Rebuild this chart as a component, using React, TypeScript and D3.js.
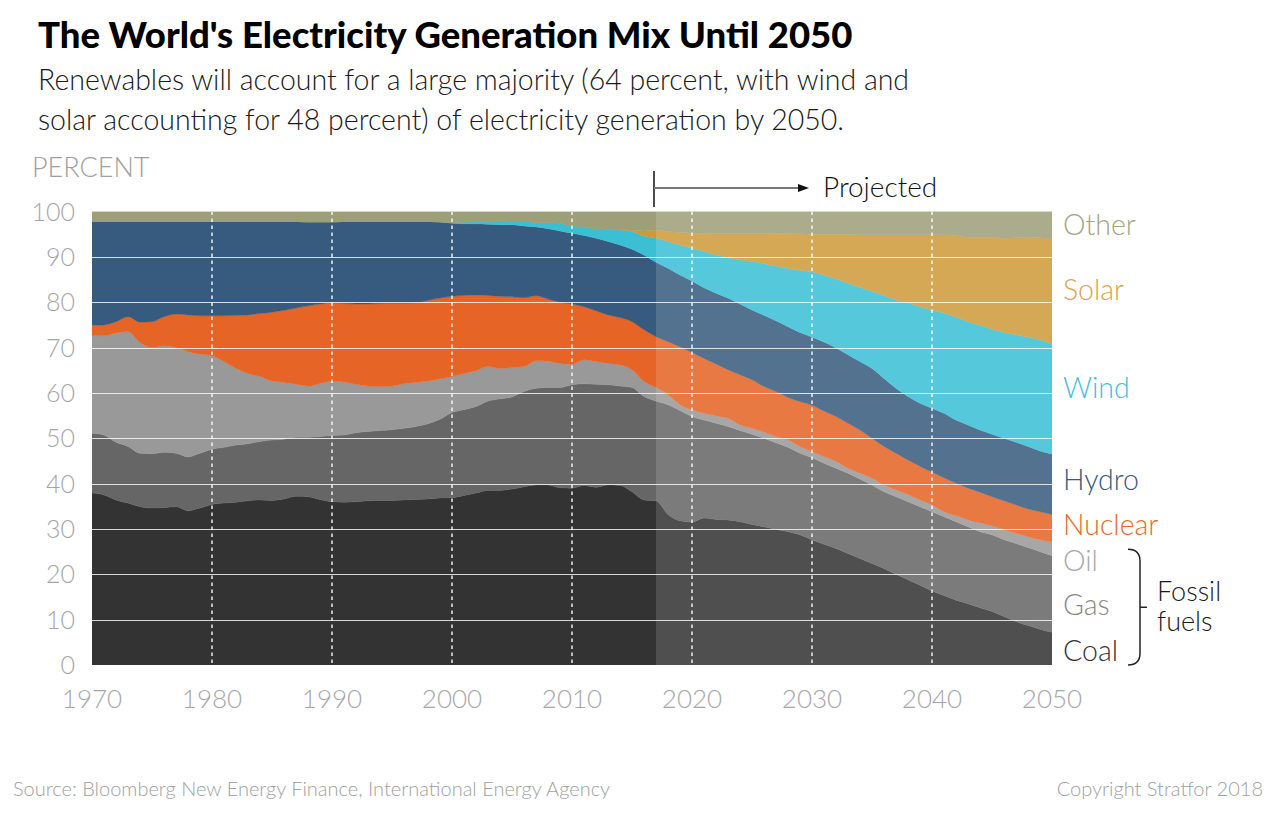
import * as d3 from "d3"
import { useEffect, useRef } from "react"

const YEARS = d3.range(1970, 2051)
const PROJECTION_START = 2017

// shares of world generation, percent, 1970..2050
const COAL = [
  37.9, 37.5, 36.4, 35.7, 34.9, 34.6, 34.7, 34.9, 34.0, 34.6,
  35.4, 35.7, 35.9, 36.2, 36.4, 36.3, 36.6, 37.2, 37.1, 36.5,
  36.0, 35.9, 36.0, 36.2, 36.3, 36.3, 36.4, 36.5, 36.6, 36.8,
  36.9, 37.4, 37.9, 38.5, 38.5, 38.8, 39.3, 39.7, 39.7, 39.1,
  39.0, 39.6, 39.2, 39.7, 39.6, 38.2, 36.4, 36.2, 33.2, 31.8,
  31.5, 32.4, 32.1, 32.0, 31.6, 31.0, 30.5, 29.9, 29.4, 28.7,
  27.6, 26.6, 25.7, 24.6, 23.5, 22.4, 21.3, 20.0, 18.8, 17.6,
  16.3, 15.3, 14.3, 13.5, 12.6, 11.8, 10.7, 9.6, 8.7, 7.9,
  7.2,
]
const GAS = [
  13.2, 13.2, 12.7, 12.5, 11.8, 12.0, 12.2, 11.8, 11.9, 12.1,
  12.2, 12.3, 12.6, 12.6, 12.9, 13.3, 13.2, 13.0, 13.1, 13.9,
  14.6, 14.8, 15.2, 15.3, 15.4, 15.6, 15.8, 16.1, 16.6, 17.4,
  18.8, 18.9, 19.1, 19.7, 20.2, 20.3, 21.0, 21.3, 21.5, 22.1,
  22.8, 22.4, 22.7, 22.1, 21.9, 23.0, 22.8, 22.0, 24.2, 24.3,
  23.3, 21.6, 21.2, 20.6, 20.1, 19.9, 19.5, 19.1, 18.6, 18.0,
  18.1, 17.9, 17.7, 17.7, 17.5, 17.3, 16.9, 17.1, 17.2, 17.3,
  17.5, 17.4, 17.3, 17.0, 16.8, 16.9, 16.9, 17.2, 17.2, 17.1,
  16.9,
]
const OIL = [
  21.5, 21.9, 24.1, 25.3, 24.4, 23.4, 23.5, 23.3, 23.2, 21.8,
  20.6, 18.9, 16.9, 15.5, 14.3, 13.0, 12.5, 11.7, 11.3, 11.7,
  11.9, 11.7, 10.7, 10.0, 9.7, 9.6, 9.8, 9.7, 9.4, 8.9,
  7.9, 8.0, 7.9, 7.6, 6.7, 6.5, 5.5, 6.1, 5.8, 5.3,
  4.5, 5.3, 5.0, 4.7, 4.7, 3.9, 3.3, 3.0, 2.2, 1.3,
  1.5, 1.5, 1.6, 1.8, 1.2, 1.3, 1.3, 1.4, 1.6, 1.5,
  1.3, 1.5, 1.5, 1.1, 1.3, 1.5, 1.5, 1.5, 1.6, 1.5,
  1.5, 1.1, 1.3, 1.5, 1.9, 2.0, 2.2, 2.2, 2.4, 2.6,
  3.0,
]
const NUCLEAR = [
  2.4, 2.4, 2.5, 3.3, 4.5, 5.7, 6.4, 7.4, 8.1, 8.5,
  8.8, 10.1, 11.7, 12.9, 13.9, 15.2, 15.9, 16.8, 17.7, 17.5,
  17.4, 17.3, 17.7, 18.1, 18.3, 18.3, 17.8, 17.6, 17.8, 17.8,
  17.7, 17.2, 16.7, 15.7, 15.9, 15.6, 15.2, 14.3, 13.7, 13.5,
  13.3, 11.7, 11.2, 10.7, 10.4, 10.6, 11.4, 11.2, 11.7, 12.8,
  12.6, 12.1, 11.5, 10.7, 11.1, 10.7, 10.1, 9.9, 9.4, 9.9,
  10.3, 10.0, 9.9, 9.9, 9.5, 8.8, 8.5, 8.1, 7.6, 7.4,
  7.2, 7.5, 7.2, 7.0, 6.8, 6.4, 6.4, 6.3, 6.1, 6.2,
  6.1,
]
const HYDRO = [
  22.8, 22.8, 22.1, 21.0, 22.2, 22.1, 21.0, 20.4, 20.6, 20.8,
  20.8, 20.8, 20.7, 20.6, 20.3, 20.0, 19.6, 19.1, 18.5, 18.1,
  17.8, 18.1, 18.2, 18.2, 18.1, 18.0, 18.0, 17.9, 17.4, 16.8,
  16.1, 15.8, 15.7, 15.7, 15.8, 15.9, 15.8, 15.2, 15.5, 15.7,
  15.6, 15.7, 16.0, 16.2, 16.0, 16.0, 16.5, 16.4, 16.2, 15.8,
  15.8, 15.6, 15.6, 15.8, 15.6, 15.4, 15.7, 15.6, 15.6, 15.2,
  15.0, 15.2, 15.1, 15.1, 15.1, 15.4, 15.0, 14.3, 14.0, 13.9,
  14.1, 14.2, 13.9, 13.9, 13.7, 13.8, 13.8, 13.8, 13.8, 13.4,
  13.3,
]
const WIND = [
  0, 0, 0, 0, 0, 0, 0, 0, 0, 0,
  0, 0, 0, 0, 0, 0, 0, 0, 0, 0,
  0, 0, 0, 0, 0, 0, 0, 0, 0, 0,
  0.2, 0.4, 0.5, 0.6, 0.9, 0.8, 1.1, 1.0, 1.4, 1.7,
  1.7, 1.8, 2.2, 2.7, 3.3, 3.9, 4.2, 5.3, 5.9, 6.6,
  7.2, 8.0, 8.4, 9.0, 9.7, 10.7, 11.4, 12.1, 12.9, 13.7,
  14.4, 14.8, 15.2, 15.8, 16.4, 17.0, 18.3, 19.5, 20.6, 21.3,
  21.7, 22.1, 22.7, 22.8, 23.1, 23.1, 23.4, 23.7, 24.1, 24.5,
  24.2,
]
const SOLAR = [
  0, 0, 0, 0, 0, 0, 0, 0, 0, 0,
  0, 0, 0, 0, 0, 0, 0, 0, 0, 0,
  0, 0, 0, 0, 0, 0, 0, 0, 0, 0,
  0, 0, 0, 0, 0, 0, 0, 0, 0, 0,
  0, 0, 0, 0, 0.1, 0.3, 1.1, 1.8, 2.2, 2.8,
  3.3, 4.0, 4.7, 5.2, 5.8, 6.1, 6.6, 7.2, 7.7, 8.1,
  8.3, 9.0, 9.9, 10.8, 11.6, 12.5, 13.4, 14.4, 15.1, 15.9,
  16.6, 17.3, 18.0, 18.6, 19.4, 20.3, 20.7, 21.4, 22.0, 22.5,
  23.3,
]
const OTHER = [
  2.2, 2.2, 2.2, 2.2, 2.2, 2.2, 2.2, 2.2, 2.2, 2.2,
  2.2, 2.2, 2.2, 2.2, 2.2, 2.2, 2.2, 2.2, 2.3, 2.3,
  2.3, 2.2, 2.2, 2.2, 2.2, 2.2, 2.2, 2.2, 2.2, 2.3,
  2.4, 2.3, 2.2, 2.2, 2.0, 2.1, 2.1, 2.4, 2.4, 2.6,
  3.1, 3.5, 3.7, 3.9, 4.0, 4.1, 4.3, 4.1, 4.4, 4.6,
  4.8, 4.8, 4.9, 4.9, 4.9, 4.9, 4.9, 4.8, 4.8, 4.9,
  5.0, 5.0, 5.0, 5.0, 5.1, 5.1, 5.1, 5.1, 5.1, 5.1,
  5.1, 5.1, 5.3, 5.7, 5.7, 5.7, 5.9, 5.8, 5.7, 5.8,
  6.0,
]

const SOURCES = ["Coal", "Gas", "Oil", "Nuclear", "Hydro", "Wind", "Solar", "Other"]
const SERIES = [COAL, GAS, OIL, NUCLEAR, HYDRO, WIND, SOLAR, OTHER]
const FILLS = ["#333333", "#666666", "#999999", "#e66425", "#365b7e", "#3bbfd5", "#cd9a3a", "#9d9f78"]
const LABEL_COLORS: Record<string, string> = {
  Other: "#a3a582",
  Solar: "#d6a44b",
  Wind: "#3fc0d6",
  Hydro: "#365b7e",
  Nuclear: "#ea6a2b",
  Oil: "#a8a8a8",
  Gas: "#888888",
  Coal: "#333333",
}
// y position (percent) of each side label
const LABEL_AT: Record<string, number> = {
  Other: 97,
  Solar: 82.8,
  Wind: 61,
  Hydro: 40.7,
  Nuclear: 30.8,
  Oil: 23,
  Gas: 13.2,
  Coal: 3,
}

const Y_TICKS = [0, 10, 20, 30, 40, 50, 60, 70, 80, 90, 100]
const X_TICKS = [1970, 1980, 1990, 2000, 2010, 2020, 2030, 2040, 2050]

const FONT = "Lato, 'Open Sans', sans-serif"

function Chart() {
  const ref = useRef<SVGSVGElement | null>(null)

  useEffect(() => {
    if (!ref.current) return
    const width = 1280
    const height = 824
    const margin = { top: 211.5, right: 228, bottom: 159, left: 92 }

    const svg = d3.select(ref.current)
    svg.selectAll("*").remove()
    svg.attr("viewBox", `0 0 ${width} ${height}`)

    const x = d3
      .scaleLinear()
      .domain([1970, 2050])
      .range([margin.left, width - margin.right])
    const y = d3
      .scaleLinear()
      .domain([0, 100])
      .range([height - margin.bottom, margin.top])

    const rows = YEARS.map((yr, i) => {
      const row: Record<string, number> = { year: yr }
      SOURCES.forEach((s, j) => (row[s] = SERIES[j][i]))
      return row
    })
    const stacked = d3.stack<Record<string, number>>().keys(SOURCES)(rows)

    svg
      .append("defs")
      .append("clipPath")
      .attr("id", "plot-clip")
      .append("rect")
      .attr("x", x(1970))
      .attr("y", y(100))
      .attr("width", x(2050) - x(1970))
      .attr("height", y(0) - y(100))

    const area = d3
      .area<d3.SeriesPoint<Record<string, number>>>()
      .x((d) => x(d.data.year))
      .y0((d) => y(d[0]))
      .y1((d) => y(d[1]))
      .curve(d3.curveMonotoneX)

    const plot = svg.append("g").attr("clip-path", "url(#plot-clip)")
    plot
      .selectAll("path")
      .data(stacked)
      .join("path")
      .attr("d", area)
      .attr("fill", (_, i) => FILLS[i])
      .attr("stroke", (_, i) => FILLS[i])
      .attr("stroke-width", 0.4)

    // lighter wash over the projected years
    plot
      .append("rect")
      .attr("x", x(PROJECTION_START))
      .attr("y", y(100))
      .attr("width", x(2050) - x(PROJECTION_START))
      .attr("height", y(0) - y(100))
      .attr("fill", "#fff")
      .attr("opacity", 0.14)

    // gridlines
    plot
      .append("g")
      .selectAll("line")
      .data(Y_TICKS.filter((t) => t > 0 && t < 100))
      .join("line")
      .attr("x1", x(1970))
      .attr("x2", x(2050))
      .attr("y1", (t) => Math.round(y(t)) + 0.5)
      .attr("y2", (t) => Math.round(y(t)) + 0.5)
      .attr("stroke", "#fff")
      .attr("stroke-opacity", 0.8)
      .attr("stroke-width", 1.2)

    plot
      .append("g")
      .selectAll("line")
      .data(X_TICKS.filter((t) => t > 1970 && t < 2050))
      .join("line")
      .attr("x1", (t) => x(t))
      .attr("x2", (t) => x(t))
      .attr("y1", y(100))
      .attr("y2", y(0))
      .attr("stroke", "#fff")
      .attr("stroke-opacity", 0.9)
      .attr("stroke-width", 1.5)
      .attr("stroke-dasharray", "3.5,3.5")

    // axes as plain labels
    svg
      .append("g")
      .attr("font-family", FONT)
      .attr("font-weight", 300)
      .attr("font-size", 25)
      .attr("fill", "#a6a6a6")
      .selectAll("text")
      .data(Y_TICKS)
      .join("text")
      .attr("x", 75)
      .attr("y", (t) => y(t) + 9)
      .attr("text-anchor", "end")
      .text((t) => t)

    svg
      .append("g")
      .attr("font-family", FONT)
      .attr("font-weight", 300)
      .attr("font-size", 26)
      .attr("fill", "#a6a6a6")
      .selectAll("text")
      .data(X_TICKS)
      .join("text")
      .attr("x", (t) => x(t))
      .attr("y", 708)
      .attr("text-anchor", "middle")
      .text((t) => t)

    svg
      .append("text")
      .attr("x", 32)
      .attr("y", 177)
      .attr("font-family", FONT)
      .attr("font-weight", 300)
      .attr("font-size", 27)
      .attr("fill", "#a0a0a0")
      .text("PERCENT")

    // side labels
    svg
      .append("g")
      .attr("font-family", FONT)
      .attr("font-weight", 300)
      .attr("font-size", 28.5)
      .selectAll("text")
      .data(SOURCES)
      .join("text")
      .attr("x", 1063)
      .attr("y", (s) => y(LABEL_AT[s]) + 10)
      .attr("fill", (s) => LABEL_COLORS[s])
      .text((s) => s)

    // fossil fuels bracket
    const bx = 1140
    const b0 = y(25.5)
    const b1 = y(0)
    svg
      .append("path")
      .attr(
        "d",
        `M${bx - 12},${b0} Q${bx},${b0} ${bx},${b0 + 12} L${bx},${b1 - 12} Q${bx},${b1} ${bx - 12},${b1}` +
          ` M${bx},${(b0 + b1) / 2} L${bx + 7},${(b0 + b1) / 2}`,
      )
      .attr("fill", "none")
      .attr("stroke", "#222")
      .attr("stroke-width", 1.5)
    svg
      .append("g")
      .attr("font-family", FONT)
      .attr("font-weight", 300)
      .attr("font-size", 27)
      .attr("fill", "#1a1a1a")
      .selectAll("text")
      .data(["Fossil", "fuels"])
      .join("text")
      .attr("x", 1157)
      .attr("y", (_, i) => 601 + i * 30)
      .text((d) => d)

    // projected marker
    const px = x(PROJECTION_START) - 2
    svg
      .append("line")
      .attr("x1", px)
      .attr("x2", px)
      .attr("y1", 171)
      .attr("y2", 207)
      .attr("stroke", "#111")
      .attr("stroke-width", 1.5)
    svg
      .append("line")
      .attr("x1", px)
      .attr("x2", 800)
      .attr("y1", 188)
      .attr("y2", 188)
      .attr("stroke", "#777")
      .attr("stroke-width", 2)
    svg
      .append("path")
      .attr("d", "M798,184 L809,188 L798,192 Z")
      .attr("fill", "#111")
    svg
      .append("text")
      .attr("x", 823)
      .attr("y", 197)
      .attr("font-family", FONT)
      .attr("font-weight", 300)
      .attr("font-size", 28)
      .attr("fill", "#111")
      .text("Projected")

    // heading
    svg
      .append("text")
      .attr("x", 38)
      .attr("y", 48)
      .attr("font-family", FONT)
      .attr("font-weight", 900)
      .attr("font-size", 36.5)
      .attr("fill", "#000")
      .text("The World's Electricity Generation Mix Until 2050")

    svg
      .append("g")
      .attr("font-family", FONT)
      .attr("font-weight", 300)
      .attr("font-size", 28.5)
      .attr("fill", "#1a1a1a")
      .selectAll("text")
      .data([
        "Renewables will account for a large majority (64 percent, with wind and",
        "solar accounting for 48 percent) of electricity generation by 2050.",
      ])
      .join("text")
      .attr("x", 38)
      .attr("y", (_, i) => 90 + i * 40)
      .text((d) => d)

    // footer
    const foot = svg
      .append("g")
      .attr("font-family", FONT)
      .attr("font-weight", 300)
      .attr("font-size", 20)
      .attr("fill", "#a0a0a0")
    foot
      .append("text")
      .attr("x", 13)
      .attr("y", 796)
      .text("Source: Bloomberg New Energy Finance, International Energy Agency")
    foot
      .append("text")
      .attr("x", 1263)
      .attr("y", 796)
      .attr("text-anchor", "end")
      .text("Copyright Stratfor 2018")
  }, [])

  return (
    <svg
      ref={ref}
      width={1280}
      height={824}
      style={{ position: "absolute", left: 0, top: 0, display: "block", background: "#fff" }}
    />
  )
}

export default function App() {
  return <Chart />
}
